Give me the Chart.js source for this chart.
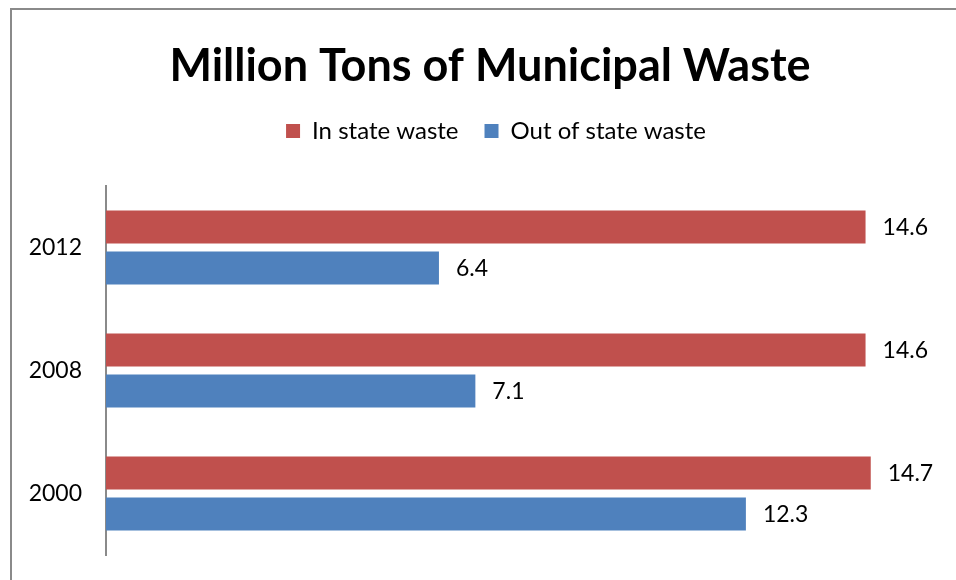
<!DOCTYPE html>
<html>
<head>
<meta charset="utf-8">
<script src="https://cdn.jsdelivr.net/npm/chart.js@4"></script>
<style>
  html, body { margin: 0; padding: 0; background: #fff; overflow: hidden; width: 956px; height: 580px; }
  #frame { position: absolute; left: 10px; top: 8px; width: 1000px; height: 620px; border-left: 2px solid #8a8a8a; border-top: 2px solid #8a8a8a; box-sizing: border-box; }
  #wrap { position: absolute; left: 0; top: 0; width: 980px; height: 580px; }
</style>
</head>
<body>
<div id="frame"></div>
<div id="wrap"><canvas id="c" width="980" height="580"></canvas></div>
<script>
const categories = ['2012', '2008', '2000'];
const inStateWaste = [14.6, 14.6, 14.7];
const outOfStateWaste = [6.4, 7.1, 12.3];
const seriesNames = ['In state waste', 'Out of state waste'];

const FONT = 'Lato, "Noto Sans", sans-serif';

const valueLabels = {
  id: 'valueLabels',
  afterDatasetsDraw(chart) {
    const ctx = chart.ctx;
    ctx.save();
    ctx.font = '23px ' + FONT;
    ctx.fillStyle = '#000';
    ctx.textAlign = 'left';
    ctx.textBaseline = 'middle';
    chart.data.datasets.forEach((ds, i) => {
      const meta = chart.getDatasetMeta(i);
      meta.data.forEach((el, j) => {
        ctx.fillText(ds.data[j].toFixed(1), el.x + 17, el.y + 1);
      });
    });
    ctx.restore();
  }
};

const legendSpace = {
  id: 'legendSpace',
  beforeInit(chart) {
    const lg = chart.legend;
    const origFit = lg.fit;
    lg.fit = function () {
      origFit.call(this);
      this.height += 33;
    };
    const origDraw = lg.draw;
    lg.draw = function () {
      const c = this.ctx;
      c.save();
      c.translate(6, 0);
      origDraw.apply(this, arguments);
      c.restore();
    };
  }
};

new Chart(document.getElementById('c'), {
  type: 'bar',
  data: {
    labels: categories,
    datasets: [
      { label: seriesNames[0], data: inStateWaste, backgroundColor: '#C0504D', borderColor: '#C0504D', borderWidth: 0 },
      { label: seriesNames[1], data: outOfStateWaste, backgroundColor: '#4F81BD', borderColor: '#4F81BD', borderWidth: 0 }
    ]
  },
  options: {
    indexAxis: 'y',
    responsive: false,
    animation: false,
    devicePixelRatio: 1,
    layout: { padding: { left: 0, right: 0, top: 0, bottom: 25 } },
    datasets: { bar: { categoryPercentage: 0.667, barPercentage: 0.8 } },
    scales: {
      x: { display: false, min: 0, max: 16.8 },
      y: {
        grid: { display: false, drawTicks: false },
        border: { display: true, color: '#8a8a8a', width: 2 },
        ticks: { color: '#000', font: { size: 23, family: FONT }, padding: 24 },
        afterFit(scale) {
          scale.width = 106;
          scale.paddingTop = 0;
          scale.paddingBottom = 0;
        }
      }
    },
    plugins: {
      title: {
        display: true,
        text: 'Million Tons of Municipal Waste',
        color: '#000',
        font: { size: 45, weight: 'bold', family: FONT },
        padding: { top: 39, bottom: 0 }
      },
      legend: {
        display: true,
        labels: {
          color: '#000',
          font: { size: 24, family: FONT },
          boxWidth: 14, boxHeight: 14,
          padding: 26
        }
      },
      tooltip: { enabled: false }
    }
  },
  plugins: [valueLabels, legendSpace]
});
</script>
</body>
</html>
